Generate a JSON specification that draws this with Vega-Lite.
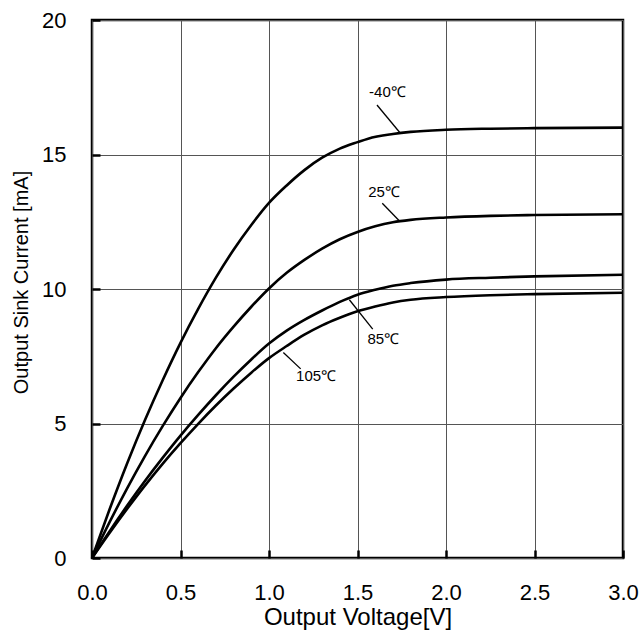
{
  "$schema": "https://vega.github.io/schema/vega-lite/v6.json",
  "width": 531,
  "height": 538,
  "autosize": {"type": "none"},
  "padding": {"left": 92, "top": 20, "right": 16, "bottom": 80},
  "background": "white",
  "config": {
    "view": {"stroke": "black", "strokeWidth": 2.5},
    "font": "Liberation Sans",
    "axis": {
      "labelFont": "Liberation Sans",
      "titleFont": "Liberation Sans",
      "titleFontWeight": "normal",
      "labelColor": "black",
      "titleColor": "black",
      "labelFlush": false,
      "domain": false,
      "grid": true,
      "gridColor": "#555555",
      "gridWidth": 1,
      "gridOpacity": 1,
      "tickColor": "black",
      "tickWidth": 2.5,
      "tickSize": -8
    }
  },
  "datasets": {
    "curves": [
      {"s": "-40", "v": 0, "i": 0}, {"s": "-40", "v": 0.1, "i": 1.82}, {"s": "-40", "v": 0.2, "i": 3.54}, {"s": "-40", "v": 0.3, "i": 5.14}, {"s": "-40", "v": 0.4, "i": 6.62}, {"s": "-40", "v": 0.5, "i": 8.0}, {"s": "-40", "v": 0.6, "i": 9.26}, {"s": "-40", "v": 0.7, "i": 10.42}, {"s": "-40", "v": 0.8, "i": 11.46}, {"s": "-40", "v": 0.9, "i": 12.38}, {"s": "-40", "v": 1.0, "i": 13.2}, {"s": "-40", "v": 1.1, "i": 13.85}, {"s": "-40", "v": 1.2, "i": 14.42}, {"s": "-40", "v": 1.3, "i": 14.88}, {"s": "-40", "v": 1.4, "i": 15.22}, {"s": "-40", "v": 1.5, "i": 15.46}, {"s": "-40", "v": 1.56, "i": 15.59}, {"s": "-40", "v": 1.7, "i": 15.76}, {"s": "-40", "v": 1.8, "i": 15.84}, {"s": "-40", "v": 2.0, "i": 15.92}, {"s": "-40", "v": 2.25, "i": 15.96}, {"s": "-40", "v": 2.5, "i": 15.98}, {"s": "-40", "v": 3.0, "i": 16.0},
      {"s": "25", "v": 0, "i": 0}, {"s": "25", "v": 0.1, "i": 1.34}, {"s": "25", "v": 0.2, "i": 2.61}, {"s": "25", "v": 0.3, "i": 3.8}, {"s": "25", "v": 0.4, "i": 4.91}, {"s": "25", "v": 0.5, "i": 5.95}, {"s": "25", "v": 0.6, "i": 6.91}, {"s": "25", "v": 0.7, "i": 7.8}, {"s": "25", "v": 0.8, "i": 8.6}, {"s": "25", "v": 0.9, "i": 9.34}, {"s": "25", "v": 1.0, "i": 10.02}, {"s": "25", "v": 1.1, "i": 10.6}, {"s": "25", "v": 1.2, "i": 11.08}, {"s": "25", "v": 1.3, "i": 11.5}, {"s": "25", "v": 1.4, "i": 11.85}, {"s": "25", "v": 1.5, "i": 12.12}, {"s": "25", "v": 1.6, "i": 12.33}, {"s": "25", "v": 1.7, "i": 12.48}, {"s": "25", "v": 1.8, "i": 12.57}, {"s": "25", "v": 2.0, "i": 12.66}, {"s": "25", "v": 2.25, "i": 12.72}, {"s": "25", "v": 2.5, "i": 12.75}, {"s": "25", "v": 3.0, "i": 12.78},
      {"s": "85", "v": 0, "i": 0}, {"s": "85", "v": 0.1, "i": 1.0}, {"s": "85", "v": 0.2, "i": 1.96}, {"s": "85", "v": 0.3, "i": 2.87}, {"s": "85", "v": 0.4, "i": 3.73}, {"s": "85", "v": 0.5, "i": 4.55}, {"s": "85", "v": 0.6, "i": 5.32}, {"s": "85", "v": 0.7, "i": 6.05}, {"s": "85", "v": 0.8, "i": 6.74}, {"s": "85", "v": 0.9, "i": 7.38}, {"s": "85", "v": 1.0, "i": 7.97}, {"s": "85", "v": 1.1, "i": 8.45}, {"s": "85", "v": 1.2, "i": 8.85}, {"s": "85", "v": 1.3, "i": 9.2}, {"s": "85", "v": 1.4, "i": 9.52}, {"s": "85", "v": 1.5, "i": 9.79}, {"s": "85", "v": 1.6, "i": 9.97}, {"s": "85", "v": 1.7, "i": 10.12}, {"s": "85", "v": 1.8, "i": 10.22}, {"s": "85", "v": 2.0, "i": 10.35}, {"s": "85", "v": 2.25, "i": 10.42}, {"s": "85", "v": 2.5, "i": 10.47}, {"s": "85", "v": 3.0, "i": 10.53},
      {"s": "105", "v": 0, "i": 0}, {"s": "105", "v": 0.1, "i": 0.94}, {"s": "105", "v": 0.2, "i": 1.84}, {"s": "105", "v": 0.3, "i": 2.7}, {"s": "105", "v": 0.4, "i": 3.51}, {"s": "105", "v": 0.5, "i": 4.27}, {"s": "105", "v": 0.6, "i": 4.99}, {"s": "105", "v": 0.7, "i": 5.67}, {"s": "105", "v": 0.8, "i": 6.3}, {"s": "105", "v": 0.9, "i": 6.89}, {"s": "105", "v": 1.0, "i": 7.43}, {"s": "105", "v": 1.1, "i": 7.88}, {"s": "105", "v": 1.2, "i": 8.3}, {"s": "105", "v": 1.3, "i": 8.65}, {"s": "105", "v": 1.4, "i": 8.93}, {"s": "105", "v": 1.5, "i": 9.17}, {"s": "105", "v": 1.6, "i": 9.35}, {"s": "105", "v": 1.7, "i": 9.5}, {"s": "105", "v": 1.8, "i": 9.6}, {"s": "105", "v": 2.0, "i": 9.7}, {"s": "105", "v": 2.25, "i": 9.77}, {"s": "105", "v": 2.5, "i": 9.81}, {"s": "105", "v": 3.0, "i": 9.86}
    ],
    "leaders": [
      {"x": 1.61, "y": 16.84, "x2": 1.74, "y2": 15.81},
      {"x": 1.64, "y": 13.19, "x2": 1.74, "y2": 12.51},
      {"x": 1.454, "y": 9.6, "x2": 1.586, "y2": 8.51},
      {"x": 1.081, "y": 7.64, "x2": 1.179, "y2": 7.03}
    ],
    "labels": [
      {"x": 1.669, "y": 17.32, "t": "-40℃"},
      {"x": 1.65, "y": 13.62, "t": "25℃"},
      {"x": 1.646, "y": 8.13, "t": "85℃"},
      {"x": 1.266, "y": 6.76, "t": "105℃"}
    ]
  },
  "layer": [
    {
      "data": {"name": "curves"},
      "mark": {"type": "line", "color": "black", "strokeWidth": 2.6, "interpolate": "monotone"},
      "encoding": {
        "x": {
          "field": "v", "type": "quantitative",
          "scale": {"domain": [0, 3], "nice": false},
          "axis": {"values": [0, 0.5, 1, 1.5, 2, 2.5, 3], "format": ".1f", "labelFontSize": 22, "labelPadding": 32, "title": "Output Voltage[V]", "titleFontSize": 24, "titlePadding": 2}
        },
        "y": {
          "field": "i", "type": "quantitative",
          "scale": {"domain": [0, 20], "nice": false},
          "axis": {"values": [0, 5, 10, 15, 20], "labelFontSize": 22, "labelPadding": 34, "title": "Output Sink Current [mA]", "titleFontSize": 20, "titlePadding": 10, "titleY": 262}
        },
        "detail": {"field": "s"}
      }
    },
    {
      "data": {"name": "leaders"},
      "mark": {"type": "rule", "color": "black", "strokeWidth": 1.3},
      "encoding": {
        "x": {"field": "x", "type": "quantitative"},
        "y": {"field": "y", "type": "quantitative"},
        "x2": {"field": "x2"},
        "y2": {"field": "y2"}
      }
    },
    {
      "data": {"name": "labels"},
      "mark": {"type": "text", "font": "Liberation Sans", "fontSize": 15, "color": "black", "align": "center", "baseline": "middle"},
      "encoding": {
        "x": {"field": "x", "type": "quantitative"},
        "y": {"field": "y", "type": "quantitative"},
        "text": {"field": "t"}
      }
    }
  ]
}
